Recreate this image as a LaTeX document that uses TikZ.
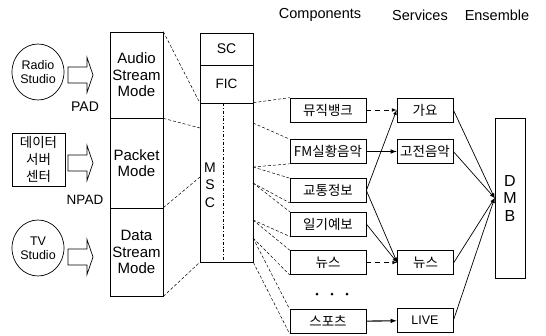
\documentclass[tikz,border=0pt]{standalone}
\usepackage{fontspec}
\setmainfont{Liberation Sans}
\newfontfamily\kr{Noto Sans CJK KR}
\usetikzlibrary{shapes.geometric}

\begin{document}
\begin{tikzpicture}[x=1pt, y=-1pt, line width=0.7pt,
		box/.style={draw, inner sep=0pt},
		modebox/.style={box, minimum width=53pt, align=center, font=\fontsize{15}{16.5}\selectfont},
		compbox/.style={box, minimum width=76pt, minimum height=24pt, font=\kr\fontsize{13.5}{14}\selectfont},
		servbox/.style={box, minimum width=56pt, minimum height=24pt, font=\kr\fontsize{13.5}{14}\selectfont},
		studio/.style={draw, ellipse, inner sep=0pt, minimum width=52pt, minimum height=56pt, align=center, font=\fontsize{12.5}{14}\selectfont},
		head/.style={font=\fontsize{14.5}{16}\selectfont},
		fan/.style={densely dashed, line width=0.5pt},
		link/.style={-latex, line width=0.7pt}]
		\useasboundingbox (0,0) rectangle (546,335);
		
		% Источники
		\node[studio] (radio) at (38,72) {Radio\\Studio};
		\node[box, minimum width=53pt, minimum height=53pt, align=center, font=\kr\fontsize{13.5}{17}\selectfont] (server) at (38.5,159.5) {데이터\\서버\\센터};
		\node[studio] (tv) at (38,248) {TV\\Studio};
		\foreach \y in {75,163,257}
			\draw (68,\y-8) -- (87,\y-8) -- (87,\y-17.5) -- (93,\y) -- (87,\y+17.5) -- (87,\y+8) -- (68,\y+8) -- cycle;
		\node[font=\fontsize{14}{15}\selectfont] (pad) at (85,107) {PAD};
		\node[font=\fontsize{13.5}{15}\selectfont] (npad) at (85,200) {NPAD};
		
		% Режимы
		\node[modebox, minimum height=86pt] (audio) at (136.5,75) {Audio\\Stream\\Mode};
		\node[modebox, minimum height=90pt] (packet) at (136.5,163) {Packet\\Mode};
		\node[modebox, minimum height=88pt] (data) at (136.5,252) {Data\\Stream\\Mode};
		
		% Мультиплекс
		\node[box, minimum width=53pt, minimum height=32pt, font=\fontsize{14}{15}\selectfont] (sc) at (226.5,49) {SC};
		\node[box, minimum width=53pt, minimum height=38pt, font=\fontsize{13.5}{15}\selectfont] (fic) at (226.5,84) {FIC};
		\node[box, minimum width=53pt, minimum height=159pt] (msc) at (226.5,182.5) {};
		\node[align=center, font=\fontsize{14}{17.5}\selectfont] (msctext) at (210,185) {M\\S\\C};
		\draw[dash dot, line width=0.5pt] (223,103) -- (223,262);
		
		\coordinate (mw1) at (200,128);
		\coordinate (mw2) at (200,177);
		\draw[fan] (audio.north east) -- (msc.north west);
		\draw[fan] (audio.south east) -- (mw1);
		\draw[fan] (data.north east) -- (mw2);
		\draw[fan] (data.south east) -- (msc.south west);
		
		% Компоненты
		\node[head] (hcomp) at (320,15) {Components};
		\node[compbox] (musicbank) at (328,110) {뮤직뱅크};
		\node[compbox] (fmlive) at (328,151.5) {FM실황음악};
		\node[compbox] (traffic) at (328,190.5) {교통정보};
		\node[compbox] (weather) at (328,224) {일기예보};
		\node[compbox] (newsc) at (328,262.5) {뉴스};
		\node[compbox] (sports) at (328,321.5) {스포츠};
		\foreach \x in {317,332,347}
			\fill (\x,294) circle (1.5);
		
		\coordinate (me1) at (253,123);
		\coordinate (me2) at (253,167);
		\coordinate (me3) at (253,183);
		\coordinate (me4) at (253,220);
		\coordinate (me5) at (253,238);
		\draw[fan] (msc.north east) -- (musicbank.north west);
		\draw[fan] (me1) -- (fmlive.north west);
		\draw[fan] (me2) -- (fmlive.south west);
		\draw[fan] (me2) -- (traffic.north west);
		\draw[fan] (me3) -- (traffic.south west);
		\draw[fan] (me3) -- (weather.north west);
		\draw[fan] (me4) -- (weather.south west);
		\draw[fan] (me4) -- (newsc.north west);
		\draw[fan] (me5) -- (newsc.south west);
		\draw[fan] (me5) -- (sports.north west);
		\draw[fan] (msc.south east) -- (sports.south west);
		
		% Сервисы
		\node[head] (hserv) at (420,15) {Services};
		\node[servbox] (gayo) at (425,110) {가요};
		\node[servbox] (classic) at (425,151.5) {고전음악};
		\node[servbox] (newss) at (425.5,262.5) {뉴스};
		\node[servbox, font=\fontsize{12.5}{13}\selectfont] (live) at (425,320.5) {LIVE};
		
		\draw[link, dash pattern=on 5pt off 4pt] (musicbank) -- (gayo);
		\draw[link, line width=1.1pt] (fmlive) -- (classic);
		\draw[link] (traffic.east) -- (gayo.west);
		\draw[link] (traffic.east) -- (newss.west);
		\draw[link] (weather.east) -- (newss.west);
		\draw[link, dash pattern=on 5pt off 4pt] (newsc) -- (newss);
		\draw[link, line width=1.1pt] (sports) -- (live);
		
		% Ансамбль
		\node[head] (hens) at (497,15) {Ensemble};
		\node[box, minimum width=30pt, minimum height=160pt, align=center, font=\fontsize{16}{17.5}\selectfont] (dmb) at (510,198) {D\\M\\B};
		\foreach \s in {gayo,classic,newss,live}
			\draw[link] (\s.east) -- (dmb.west);
	\end{tikzpicture}
\end{document}
